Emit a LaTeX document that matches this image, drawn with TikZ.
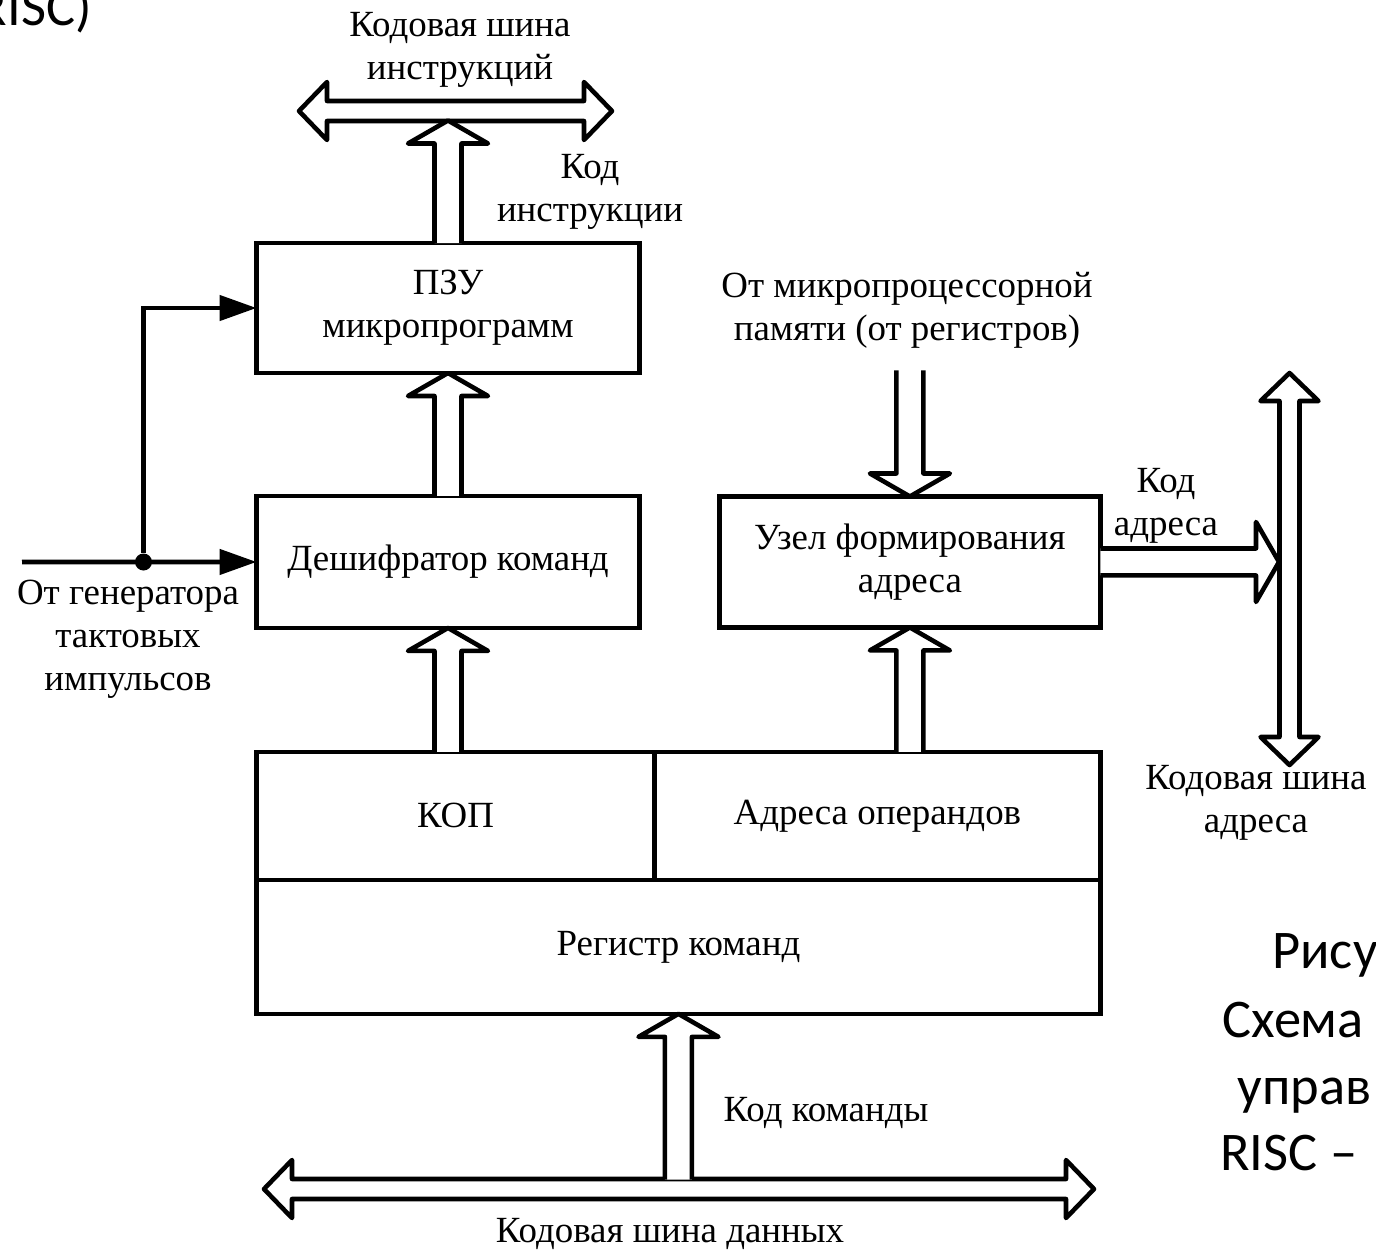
\documentclass[tikz,border=0pt]{standalone}
\usepackage{fontspec}
\setmainfont{Liberation Serif}
\newfontfamily\capfont{Carlito}
\usetikzlibrary{arrows.meta, positioning, calc}
\tikzset{
    block/.style={rectangle, draw=black, line width=2.6pt, outer sep=0pt, inner sep=2pt, align=center, font=\fontsize{21}{24.4}\selectfont},
    txt/.style={align=center, inner sep=0pt, font=\fontsize{21}{24.4}\selectfont},
    slide/.style={inner sep=0pt, font=\capfont\fontsize{31}{37}\selectfont},
    sig/.style={line width=2.6pt, -{Triangle[length=0.74cm, width=0.5cm]}},
    junction/.style={circle, fill=black, inner sep=0pt, minimum size=0.34cm},
    fat/.style={line width=2.6pt, line join=round, fill=white}
}
% hollow wide arrow, tail #1, tip #2
\newcommand{\fatarrow}[2]{%
    \draw[fat] let \p1=(#1), \p2=(#2), \n1={atan2(\y2-\y1,\x2-\x1)} in
        ($(\p1)+(\n1+90:0.27cm)$) -- ($(\p2)+(\n1+180:0.46cm)+(\n1+90:0.27cm)$)
        -- ($(\p2)+(\n1+180:0.46cm)+(\n1+90:0.8cm)$) -- (\p2)
        -- ($(\p2)+(\n1+180:0.46cm)+(\n1-90:0.8cm)$) -- ($(\p2)+(\n1+180:0.46cm)+(\n1-90:0.27cm)$)
        -- ($(\p1)+(\n1-90:0.27cm)$);}
% hollow bus with two heads, tips #1 and #2
\newcommand{\fatbus}[2]{%
    \draw[fat] let \p1=(#1), \p2=(#2), \n1={atan2(\y2-\y1,\x2-\x1)} in
        (\p1) -- ($(\p1)+(\n1:0.56cm)+(\n1+90:0.58cm)$) -- ($(\p1)+(\n1:0.56cm)+(\n1+90:0.2cm)$)
        -- ($(\p2)+(\n1+180:0.56cm)+(\n1+90:0.2cm)$) -- ($(\p2)+(\n1+180:0.56cm)+(\n1+90:0.58cm)$)
        -- (\p2)
        -- ($(\p2)+(\n1+180:0.56cm)+(\n1-90:0.58cm)$) -- ($(\p2)+(\n1+180:0.56cm)+(\n1-90:0.2cm)$)
        -- ($(\p1)+(\n1:0.56cm)+(\n1-90:0.2cm)$) -- ($(\p1)+(\n1:0.56cm)+(\n1-90:0.58cm)$) -- cycle;}

\begin{document}
\begin{tikzpicture}[x=0.02cm, y=-0.02cm]

    \useasboundingbox (0,0) rectangle (1376,1252);
    \clip (0,0) rectangle (1376,1252);

    % Blocks
    \node (pzu) [block, minimum width=7.66cm, minimum height=2.6cm] at (448,308) {ПЗУ\\микропрограмм};
    \node (dec) [block, below=2.46cm of pzu, minimum width=7.66cm, minimum height=2.64cm] {Дешифратор команд};
    \node (uzel) [block, right=1.6cm of dec, minimum width=7.62cm, minimum height=2.62cm] {Узел формирования\\адреса};
    \node (kop) [block, below=2.48cm of dec.south west, anchor=north west, minimum width=7.96cm, minimum height=2.56cm] {КОП};
    \node (opaddr) [block, right=0cm of kop, minimum width=8.92cm, minimum height=2.56cm] {Адреса операндов};
    \node (reg) [block, below=0cm of kop.south west, anchor=north west, minimum width=16.88cm, minimum height=2.68cm] {Регистр команд};

    % Buses
    \coordinate (ibusL) at (299,111);
    \coordinate (ibusR) at (612,111);
    \coordinate (abusT) at (1289.5,373);
    \coordinate (abusB) at (1289.5,765);
    \coordinate (dbusL) at (264,1189);
    \coordinate (dbusR) at (1094,1189);
    \fatbus{ibusL}{ibusR}
    \fatbus{abusT}{abusB}
    \fatbus{dbusL}{dbusR}

    % Wide arrows
    \coordinate (itip) at ($(pzu.north |- ibusL)+(0,9.5)$);
    \coordinate (memin) at ($(uzel.north)+(0,-126)$);
    \coordinate (atip) at ($(uzel.east -| abusT)+(-10.5,0)$);
    \coordinate (dtail) at ($(reg.south |- dbusL)+(0,-9.5)$);
    \fatarrow{pzu.north}{itip}
    \fatarrow{dec.north}{pzu.south}
    \fatarrow{dec.south |- kop.north}{dec.south}
    \fatarrow{uzel.south |- opaddr.north}{uzel.south}
    \fatarrow{memin}{uzel.north}
    \fatarrow{uzel.east}{atip}
    \fatarrow{dtail}{reg.south}

    % Clock
    \coordinate (clk) at (22,562);
    \node (junc) [junction] at (143.5,562) {};
    \draw[sig] (clk) -- (dec.west);
    \draw[sig] (junc) |- (pzu.west);

    % Labels
    \node (lblibus) [txt] at (460,50) {Кодовая шина\\инструкций};
    \node (lblicode) [txt] at (590,192) {Код\\инструкции};
    \node (lblmem) [txt] at (907,310) {От микропроцессорной\\памяти (от регистров)};
    \node (lblacode) [txt] at (1166,506) {Код\\адреса};
    \node (lblabus) [txt] at (1256,803) {Кодовая шина\\адреса};
    \node (lblclk) [txt] at (128,639) {От генератора\\тактовых\\импульсов};
    \node (lblccode) [txt] at (826,1113) {Код команды};
    \node (lbldbus) [txt] at (670,1234) {Кодовая шина данных};

    % Slide text cut by the frame
    \node (slide0) [slide, anchor=base east] at (92,25) {RISC)};
    \node (slide1) [slide, anchor=base west] at (1272,968) {Рису};
    \node (slide2) [slide, anchor=base west] at (1222,1037) {Схема};
    \node (slide3) [slide, anchor=base west] at (1237,1104) {управ};
    \node (slide4) [slide, anchor=base west] at (1220,1170) {RISC –};

\end{tikzpicture}
\end{document}
